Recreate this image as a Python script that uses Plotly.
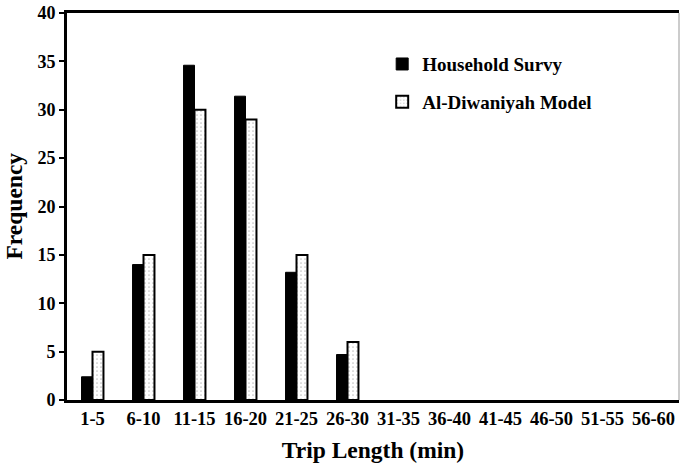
import plotly.graph_objects as go

categories = ["1-5", "6-10", "11-15", "16-20", "21-25", "26-30", "31-35",
              "36-40", "41-45", "46-50", "51-55", "56-60"]
household_survey = [2.4, 14.0, 34.6, 31.4, 13.2, 4.7, None, None, None, None, None, None]
diwaniyah_model = [5.0, 15.0, 30.0, 29.0, 15.0, 6.0, None, None, None, None, None, None]
y_ticks = [0, 5, 10, 15, 20, 25, 30, 35, 40]

FONT = "Liberation Serif, Times New Roman, serif"

fig = go.Figure()
fig.add_trace(go.Bar(
    x=categories, y=household_survey, name="Household Survy",
    marker=dict(color="black", line=dict(color="black", width=1)),
    legendgroup="a",
))
fig.add_trace(go.Bar(
    x=categories, y=diwaniyah_model, name="Al-Diwaniyah Model",
    marker=dict(color="white", line=dict(color="black", width=2),
                pattern=dict(shape=".", fgcolor="#888888", bgcolor="white",
                             size=4, solidity=0.15)),
    legendgroup="b",
))

fig.update_layout(
    width=681, height=467,
    margin=dict(l=67, r=2, t=13, b=67),
    paper_bgcolor="white", plot_bgcolor="white",
    barmode="group", bargap=0.57, bargroupgap=0,
    font=dict(family=FONT, size=18, color="black", weight="bold"),
    showlegend=True,
    legend=dict(x=0.515, y=0.917, xanchor="left", yanchor="top",
                font=dict(family=FONT, size=19, color="black", weight="bold"),
                bgcolor="rgba(0,0,0,0)", traceorder="grouped",
                tracegroupgap=10, itemwidth=30),
    xaxis=dict(
        title=dict(text="Trip Length (min)", standoff=14,
                   font=dict(family=FONT, size=23.5, weight="bold")),
        showline=True, linecolor="black", linewidth=3, mirror=True,
        ticks="", showgrid=False, tickfont=dict(size=18.5, weight="bold"),
        tickangle=0,
    ),
    yaxis=dict(
        range=[0, 40], tickvals=y_ticks,
        showline=True, linecolor="black", linewidth=3,
        ticks="outside", ticklen=5, tickwidth=2, tickcolor="black",
        showgrid=False, zeroline=False, tickfont=dict(size=18, weight="bold"),
    ),
)
fig.add_annotation(text="Frequency", xref="paper", yref="paper",
                   x=-(67 - 13) / 612, y=0.5, xanchor="center", yanchor="middle",
                   textangle=-90, showarrow=False,
                   font=dict(family=FONT, size=23.5, color="black", weight="bold"))
fig.add_shape(type="line", xref="paper", yref="paper", x0=1, x1=1, y0=0, y1=1,
              line=dict(color="#999999", width=1))

fig.write_html("out.html")
